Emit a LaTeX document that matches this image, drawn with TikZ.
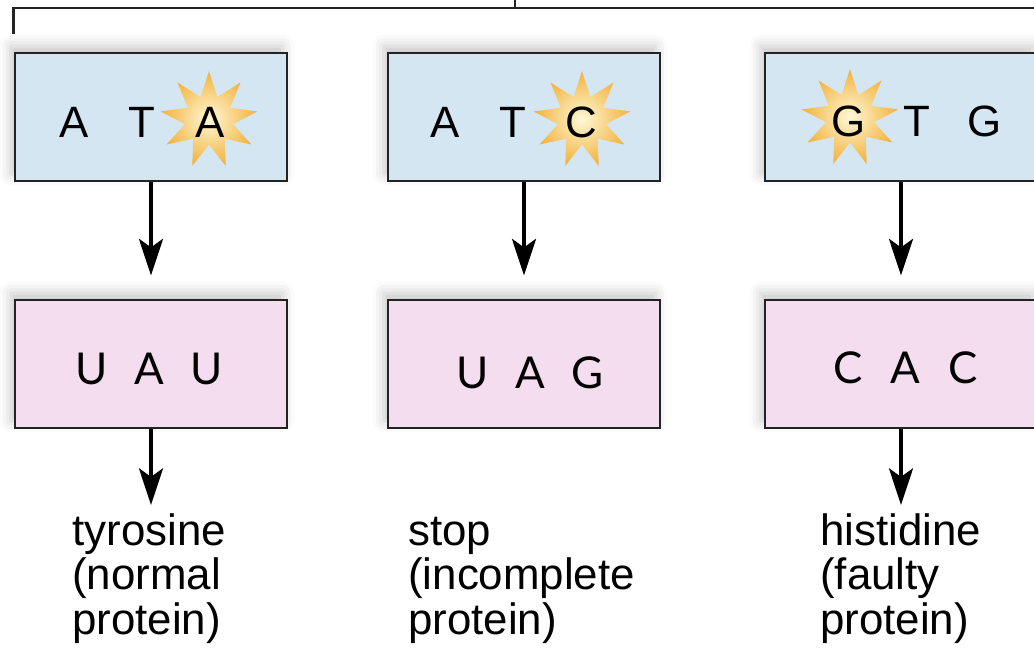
\documentclass[tikz,border=0pt]{standalone}
\usepackage{fontspec}
\setmainfont{Liberation Sans}
\newfontfamily\rnafont{Lato}
\usetikzlibrary{arrows.meta,shapes.geometric,shadows.blur}

\definecolor{dnablue}{RGB}{213,230,243}
\definecolor{rnapink}{RGB}{243,221,238}
\definecolor{framegray}{RGB}{35,35,35}
\definecolor{starcore}{RGB}{255,248,215}
\definecolor{staredge}{RGB}{242,178,60}

\newcommand{\triplet}[4]{\makebox[#1]{#2}\makebox[#1]{#3}\makebox[#1]{#4}}

\begin{document}
\begin{tikzpicture}[>={Stealth[length=26pt,width=17pt,inset=6pt]},
	codon/.style={draw=framegray,line width=2.1pt,minimum width=6.8cm,minimum height=3.2cm,inner sep=0pt,
		blur shadow={shadow xshift=-3pt,shadow yshift=5pt,shadow opacity=22,shadow blur radius=8pt}},
	dna/.style={codon,fill=dnablue},
	rna/.style={codon,fill=rnapink},
	mutation/.style={star,star points=9,star point ratio=2.0,minimum size=2.45cm,inner sep=0pt,
		draw=none,inner color=starcore,outer color=staredge},
	letters/.style={inner sep=0pt,font=\fontsize{31.2}{32}\selectfont},
	rnaletters/.style={inner sep=0pt,font=\rnafont\fontsize{31.2}{32}\selectfont},
	product/.style={anchor=north west,align=left,inner xsep=0pt,inner ysep=0.2cm,
		font=\fontsize{31.2}{31.9}\selectfont},
	flow/.style={->,line width=3pt},
	bracket/.style={draw=framegray,line width=2pt}]
	\useasboundingbox (0,0) rectangle (25.85,16.475);

	%DNA boxes
	\node[dna] (d1) at (3.775,13.55) {};
	\node[dna] (d2) at (13.1,13.55)  {};
	\node[dna] (d3) at (22.525,13.55) {};

	%mutated bases
	\node[mutation] (m1) at ([xshift=1.45cm,yshift=-0.075cm]d1.center)  {};
	\node[mutation] (m2) at ([xshift=1.45cm,yshift=-0.075cm]d2.center)  {};
	\node[mutation] (m3) at ([xshift=-1.275cm,yshift=-0.025cm]d3.center) {};

	%DNA letters
	\node[letters] (a1) at ([xshift=-0.22cm,yshift=-0.14cm]d1.center)  {\triplet{1.7cm}{A}{T}{A}};
	\node[letters] (a2) at ([xshift=-0.275cm,yshift=-0.14cm]d2.center) {\triplet{1.7cm}{A}{T}{C}};
	\node[letters] (a3) at ([xshift=0.39cm,yshift=-0.12cm]d3.center)   {\triplet{1.7cm}{G}{T}{G}};

	%RNA boxes
	\node[rna] (r1) at (3.775,7.375)  {};
	\node[rna] (r2) at (13.1,7.375)   {};
	\node[rna] (r3) at (22.525,7.375) {};

	%RNA letters
	\node[rnaletters] (u1) at ([xshift=-0.04cm,yshift=-0.125cm]r1.center) {\triplet{1.44cm}{U}{A}{U}};
	\node[rnaletters] (u2) at ([xshift=0.15cm,yshift=-0.21cm]r2.center)   {\triplet{1.44cm}{U}{A}{G}};
	\node[rnaletters] (u3) at ([xshift=0.11cm,yshift=-0.09cm]r3.center)   {\triplet{1.44cm}{C}{A}{C}};

	%products
	\node[product] (l1) at (1.8,3.85)  {\vphantom{h}tyrosine\\(normal\\protein)};
	\node[product] (l2) at (10.2,3.85) {\vphantom{h}stop\\(incomplete\\protein)};
	\node[product] (l3) at (20.5,3.85) {\vphantom{h}histidine\\(faulty\\protein)};

	%transcription
	\draw[flow] (d1.south) -- ([yshift=0.575cm]r1.north);
	\draw[flow] (d2.south) -- ([yshift=0.575cm]r2.north);
	\draw[flow] (d3.south) -- ([yshift=0.575cm]r3.north);

	%translation
	\draw[flow] (r1.south) -- (r1.south |- l1.north);
	\draw[flow] (r3.south) -- (r3.south |- l3.north);

	%bracket on top
	\coordinate (lefttick) at ([yshift=0.45cm]d1.north west);
	\coordinate (rightend) at (26.1,16.275);
	\coordinate (branch)   at (12.875,16.275);
	\draw[bracket] (lefttick) |- (rightend);
	\draw[bracket] (branch) -- ++(0,0.4);
\end{tikzpicture}
\end{document}
